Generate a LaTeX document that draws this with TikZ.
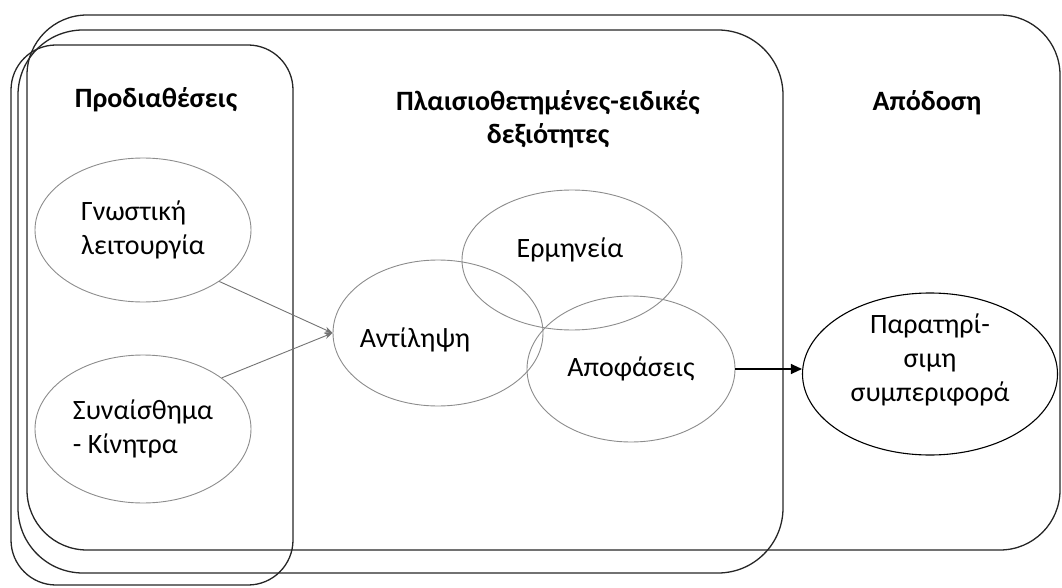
\documentclass[tikz,border=0pt]{standalone}
\usepackage{fontspec}
\setmainfont{Carlito}
\usetikzlibrary{
    arrows.meta,
    shapes.geometric
}

\tikzset{
    box/.style={draw=black!85, line width=1.3pt, rounded corners=#1},
    oval/.style={ellipse, draw=black!45, line width=0.9pt, inner sep=0pt},
    title/.style={font=\fontsize{28}{33}\selectfont\bfseries, align=center},
    txt/.style={font=\fontsize{28}{34}\selectfont, align=left},
    flow/.style={draw=black!55, line width=0.9pt, -{Stealth[length=8pt,width=6pt]}},
    result/.style={line width=1.1pt, -{Triangle[length=11pt,width=10pt]}}
}

\begin{document}
\begin{tikzpicture}[x=1pt,y=-1pt]
\useasboundingbox (0,0) rectangle (1062,588);

% frames
\draw[box=60pt] (27,15) rectangle (1060,550);
\draw[box=65pt] (18,30) rectangle (783,573);
\draw[box=45pt] (11,45) rectangle (293,585);

\node[title] (prodiatheseis) at (156,100) {Προδιαθέσεις};
\node[title] (dexiotites) at (548,119) {Πλαισιοθετημένες-ειδικές\\δεξιότητες};
\node[title] (apodosi) at (927,103) {Απόδοση};

% ovals
\node[oval, txt, minimum width=216pt, minimum height=144pt] (gnostiki) at (143,230) {Γνωστική\\λειτουργία};
\node[oval, txt, minimum width=216pt, minimum height=148pt] (synaisthima) at (143,429) {Συναίσθημα\\- Κίνητρα};

\node[oval, minimum width=210pt, minimum height=146pt] (antilipsi) at (438,333) {};
\node[txt] (antilipsi-t) at (415,340) {Αντίληψη};
\node[oval, minimum width=220pt, minimum height=140pt] (ermineia) at (572,260) {};
\node[txt] (ermineia-t) at (570,250) {Ερμηνεία};
\node[oval, txt, minimum width=208pt, minimum height=146pt] (apofaseis) at (631,369) {Αποφάσεις};

\node[oval, draw=black, line width=1.1pt, minimum width=255pt, minimum height=162pt] (paratirisimi) at (930,374) {};
\node[txt, align=center] (paratirisimi-t) at (930,360) {Παρατηρί-\\σιμη\\συμπεριφορά};

% arrows
\draw[flow] (gnostiki.-34) -- (antilipsi.west);
\draw[flow] (synaisthima.33) -- (antilipsi.west);
\draw[result] (apofaseis.east) -- (apofaseis.east -| paratirisimi.west);
\end{tikzpicture}
\end{document}
